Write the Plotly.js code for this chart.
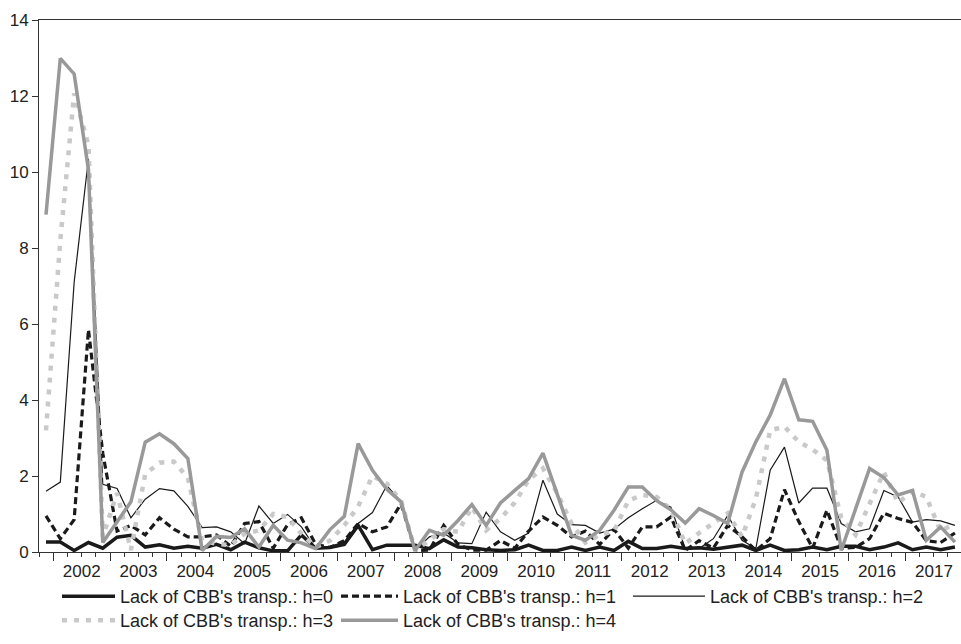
<!DOCTYPE html>
<html><head><meta charset="utf-8">
<script src="https://cdn.plot.ly/plotly-3.0.1.min.js"></script>
<style>html,body{margin:0;padding:0;background:#fff}#chart{width:961px;height:644px}</style>
</head><body><div id="chart"></div>
<script>
const quarters = [
 "2001Q4",
 "2002Q1","2002Q2","2002Q3","2002Q4","2003Q1","2003Q2","2003Q3","2003Q4",
 "2004Q1","2004Q2","2004Q3","2004Q4","2005Q1","2005Q2","2005Q3","2005Q4",
 "2006Q1","2006Q2","2006Q3","2006Q4","2007Q1","2007Q2","2007Q3","2007Q4",
 "2008Q1","2008Q2","2008Q3","2008Q4","2009Q1","2009Q2","2009Q3","2009Q4",
 "2010Q1","2010Q2","2010Q3","2010Q4","2011Q1","2011Q2","2011Q3","2011Q4",
 "2012Q1","2012Q2","2012Q3","2012Q4","2013Q1","2013Q2","2013Q3","2013Q4",
 "2014Q1","2014Q2","2014Q3","2014Q4","2015Q1","2015Q2","2015Q3","2015Q4",
 "2016Q1","2016Q2","2016Q3","2016Q4","2017Q1","2017Q2","2017Q3","2017Q4"
];
const seriesNames = [
 "Lack of CBB's transp.: h=0",
 "Lack of CBB's transp.: h=1",
 "Lack of CBB's transp.: h=2",
 "Lack of CBB's transp.: h=3",
 "Lack of CBB's transp.: h=4"
];
const h0 = [0.26,
 0.26,0.04,0.25,0.10, 0.39,0.44,0.13,0.19, 0.10,0.15,0.10,0.20, 0.06,0.26,0.11,0.03,
 0.03,0.45,0.10,0.12, 0.20,0.70,0.06,0.18, 0.18,0.18,0.09,0.32, 0.13,0.11,0.06,0.04,
 0.06,0.18,0.04,0.04, 0.13,0.04,0.13,0.04, 0.28,0.09,0.09,0.15, 0.09,0.11,0.07,0.13,
 0.18,0.04,0.18,0.04, 0.06,0.13,0.06,0.15, 0.15,0.06,0.13,0.24, 0.06,0.13,0.06,0.13];
const h1 = [0.95,
 0.35,0.85,5.85,2.60, 0.55,0.70,0.45,0.90, 0.60,0.40,0.40,0.45, 0.15,0.75,0.80,0.10,
 0.72,0.90,0.20,0.12, 0.30,0.75,0.53,0.66, 1.27,0.04,0.05,0.70, 0.20,0.05,0.05,0.30,
 0.10,0.55,0.92,0.70, 0.40,0.55,0.20,0.60, 0.10,0.66,0.66,0.92, 0.04,0.30,0.10,0.70,
 0.40,0.04,0.35,1.64, 0.80,0.10,1.10,0.10, 0.12,0.35,1.02,0.88, 0.78,0.30,0.25,0.50];
const h2 = [1.60,
 1.84,7.10,10.35,1.78, 1.67,0.90,1.39,1.67, 1.61,1.20,0.64,0.66, 0.53,0.22,1.21,0.75,
 0.99,0.66,0.09,0.15, 0.26,0.75,1.04,1.75, 1.32,0.04,0.40,0.50, 0.24,0.22,1.05,0.53,
 0.31,0.50,1.89,1.00, 0.72,0.70,0.50,0.60, 0.90,1.14,1.36,1.18, 0.09,0.09,0.35,0.96,
 0.31,0.09,2.15,2.76, 1.29,1.68,1.68,0.75, 0.53,0.61,1.62,1.45, 0.79,0.85,0.82,0.70];
const h3 = [3.20,
 8.20,12.07,10.70,0.40, 1.55,0.05,2.05,2.35, 2.38,1.95,0.30,0.22, 0.18,0.48,0.57,1.00,
 0.92,0.48,0.13,0.30, 0.70,1.20,2.00,1.80, 1.35,0.05,0.30,0.60, 0.53,1.18,0.57,0.88,
 1.30,1.90,2.20,1.55, 0.75,0.25,0.45,0.55, 1.35,1.50,1.45,1.12, 0.22,0.50,0.75,1.02,
 0.40,1.40,3.20,3.30, 2.90,2.70,2.41,0.90, 0.45,1.30,2.10,1.30, 1.60,1.45,0.55,0.75];
const h4 = [8.88,
 12.99,12.58,10.06,0.25, 0.80,1.32,2.89,3.11, 2.85,2.46,0.04,0.41, 0.38,0.61,0.13,0.70,
 0.31,0.24,0.09,0.59, 0.94,2.85,2.15,1.65, 1.32,0.04,0.57,0.44, 0.83,1.25,0.70,1.29,
 1.62,1.93,2.60,1.54, 0.44,0.31,0.57,1.10, 1.71,1.71,1.35,1.11, 0.76,1.14,0.96,0.75,
 2.10,2.90,3.60,4.56, 3.48,3.44,2.68,0.04, 1.10,2.20,1.96,1.50, 1.62,0.31,0.66,0.26];
const yTicks = [0,2,4,6,8,10,12,14];

function qDate(q){ const m = ['02','05','08','11'][+q.slice(5)-1]; return q.slice(0,4)+'-'+m+'-15'; }
const x = quarters.map(qDate);

const styles = [
 {color:'#1a1a1a', width:3.5, dash:'solid'},
 {color:'#1a1a1a', width:3.2, dash:'7px,4px'},
 {color:'#1a1a1a', width:1.2, dash:'solid'},
 {color:'#c9c9c9', width:4.5, dash:'5px,7px'},
 {color:'#999999', width:3.5, dash:'solid'}
];
const legendIds = ['legend','legend2','legend3','legend4','legend5'];
const vals = [h0,h1,h2,h3,h4];
const traces = vals.map((v,k)=>({
  type:'scatter', mode:'lines', x:x, y:v, name:seriesNames[k],
  legend:legendIds[k],
  line:{color:styles[k].color, width:styles[k].width, dash:styles[k].dash},
  hoverinfo:'skip'
}));

const font = {family:'"Liberation Sans", Arial, sans-serif', size:17, color:'#222'};
const legFont = {family:'"Liberation Sans", Arial, sans-serif', size:18, color:'#222'};
// plot area: left 39 px, width 922 px; bottom 552 px, height 532 px
const PL = 39, PW = 922, PB = 552, PH = 532;
function legendAt(lineStartPx, textStartPx, centerYPx){
  const left = lineStartPx - 5;
  return {orientation:'v', bgcolor:'rgba(0,0,0,0)', borderwidth:0, font:legFont,
    itemwidth: textStartPx - left - 10,
    xanchor:'left', yanchor:'top',
    x:(left-PL)/PW, y:-((centerYPx-19)-PB)/PH*-1 * -1 };
}
function legY(c){ return -((c-19)-PB)/PH; }
function mk(ls, ts, cy){
  const left = ls - 5;
  return {orientation:'v', bgcolor:'rgba(0,0,0,0)', borderwidth:0, font:legFont,
    itemwidth: ts - left - 10, xanchor:'left', yanchor:'top',
    x:(left-PL)/PW, y:legY(cy)};
}

const layout = {
  width:961, height:644,
  margin:{l:PL, r:0, t:20, b:644-PB},
  paper_bgcolor:'#fff', plot_bgcolor:'#fff',
  font:font,
  showlegend:true,
  xaxis:{
    type:'date', range:['2001-10-01','2017-12-24'],
    tick0:'2002-01-01', dtick:'M12', tickformat:'%Y', ticklabelmode:'period',
    ticks:'outside', ticklen:8, tickwidth:1, tickcolor:'#333', ticklabelstandoff:-4,
    minor:{dtick:'M3', tick0:'2001-10-01', ticks:'outside', ticklen:4, tickwidth:1, tickcolor:'#333', showgrid:false},
    showline:true, linecolor:'#333', linewidth:1, mirror:true,
    showgrid:false, zeroline:false, tickfont:font, fixedrange:true
  },
  yaxis:{
    range:[0,14], tickvals:yTicks, ticks:'outside', ticklen:6, tickwidth:1, tickcolor:'#333',
    showline:true, linecolor:'#333', linewidth:1,
    showgrid:false, zeroline:false, tickfont:font, fixedrange:true
  },
  legend:  mk(62, 120, 597),
  legend2: mk(341, 403, 597),
  legend3: mk(633, 710, 597),
  legend4: mk(62, 120, 621),
  legend5: mk(341, 403, 621)
};
Plotly.newPlot('chart', traces, layout, {displayModeBar:false, staticPlot:true});
</script></body></html>
